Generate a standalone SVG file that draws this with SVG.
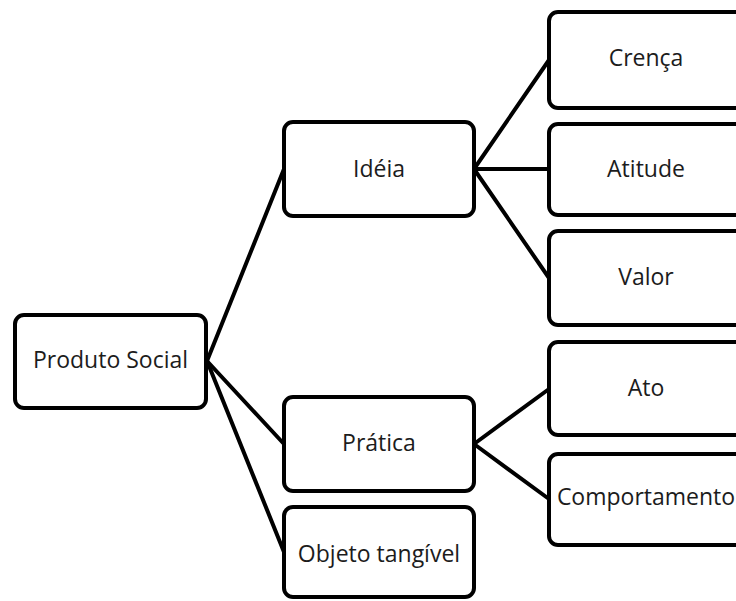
<svg xmlns="http://www.w3.org/2000/svg" width="736" height="601" viewBox="0 0 736 601">
  <style>
    .box { fill: #ffffff; stroke: #000000; stroke-width: 4; }
    .label { font-family: "Open Sans", "Noto Sans", "Liberation Sans", sans-serif; font-size: 23px; fill: #1c1c1c; text-anchor: middle; }
    .link { stroke: #000000; stroke-width: 4; stroke-linecap: round; fill: none; }
  </style>
  <rect width="736" height="601" fill="#ffffff"/>

  <!-- connectors -->
  <g id="connectors">
    <line class="link" x1="207" y1="361" x2="284" y2="169"/>
    <line class="link" x1="207" y1="361" x2="284" y2="444"/>
    <line class="link" x1="207" y1="361" x2="284" y2="552"/>
    <line class="link" x1="474" y1="169" x2="549" y2="60"/>
    <line class="link" x1="474" y1="169" x2="549" y2="169"/>
    <line class="link" x1="474" y1="169" x2="549" y2="278"/>
    <line class="link" x1="474" y1="444" x2="549" y2="389"/>
    <line class="link" x1="474" y1="444" x2="549" y2="499"/>
  </g>

  <!-- root -->
  <g id="produto-social">
    <rect class="box" x="15" y="315" width="191" height="93" rx="9"/>
    <text class="label" x="110.5" y="368">Produto Social</text>
  </g>

  <!-- second level -->
  <g id="ideia">
    <rect class="box" x="284" y="122" width="190" height="94" rx="9"/>
    <text class="label" x="379" y="177">Idéia</text>
  </g>
  <g id="pratica">
    <rect class="box" x="284" y="397" width="190" height="94" rx="9"/>
    <text class="label" x="379" y="451">Prática</text>
  </g>
  <g id="objeto-tangivel">
    <rect class="box" x="284" y="507" width="190" height="90" rx="9"/>
    <text class="label" x="379" y="562">Objeto tangível</text>
  </g>

  <!-- third level -->
  <g id="crenca">
    <rect class="box" x="549" y="12" width="195" height="96" rx="9"/>
    <text class="label" x="646" y="66">Crença</text>
  </g>
  <g id="atitude">
    <rect class="box" x="549" y="124" width="195" height="91" rx="9"/>
    <text class="label" x="646" y="177">Atitude</text>
  </g>
  <g id="valor">
    <rect class="box" x="549" y="231" width="195" height="94" rx="9"/>
    <text class="label" x="646" y="285">Valor</text>
  </g>
  <g id="ato">
    <rect class="box" x="549" y="342" width="195" height="93" rx="9"/>
    <text class="label" x="646" y="396">Ato</text>
  </g>
  <g id="comportamento">
    <rect class="box" x="549" y="454" width="195" height="91" rx="9"/>
    <text class="label" x="646" y="505">Comportamento</text>
  </g>
</svg>
